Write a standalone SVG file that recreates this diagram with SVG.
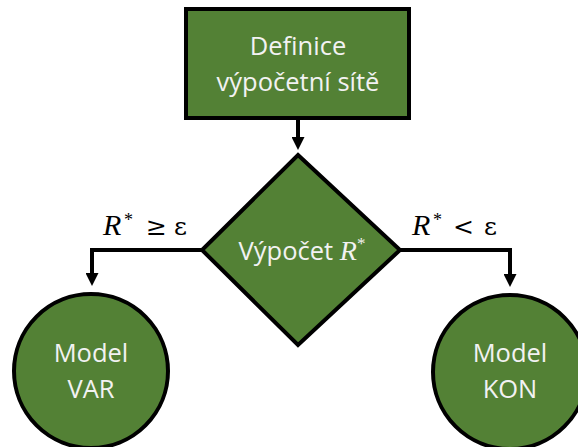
<svg xmlns="http://www.w3.org/2000/svg" width="578" height="447" viewBox="0 0 578 447">
<style>
.node{fill:#538135;stroke:#000;stroke-width:4}
.t{font-family:"Open Sans","Liberation Sans",sans-serif;font-size:25.5px;fill:#f2f2f2;text-anchor:middle}
.m{font-family:"Liberation Serif","DejaVu Serif",serif;font-size:30px;fill:#000}
.o{font-family:"DejaVu Serif",serif;font-size:25px;fill:#000}
.s{font-family:"Liberation Serif","DejaVu Serif",serif;font-size:18px;fill:#000}
.c{fill:none;stroke:#000;stroke-width:4}
</style>
<defs>
<marker id="ah" markerWidth="13" markerHeight="13" refX="9" refY="6.5" orient="auto" markerUnits="userSpaceOnUse" viewBox="0 0 13 13">
<path d="M0,0 L13,6.5 L0,13 z" fill="#000"/>
</marker>
</defs>
<g id="connectors">
<path class="c" d="M298,118 V146" marker-end="url(#ah)"/>
<path class="c" d="M202,250 H92 V282" marker-end="url(#ah)"/>
<path class="c" d="M400,250 H510 V283" marker-end="url(#ah)"/>
</g>
<g id="definice">
<rect class="node" x="186" y="9" width="223" height="109"/>
<text class="t" x="298" y="55">Definice</text>
<text class="t" x="298" y="91">výpočetní sítě</text>
</g>
<g id="vypocet">
<polygon class="node" points="298,155 400,250 298,345 202,250"/>
<text class="t" x="302" y="260">Výpočet <tspan font-family="Liberation Serif,serif" font-style="italic" font-size="28">R</tspan><tspan font-family="Liberation Serif,serif" font-size="17" dy="-11">*</tspan></text>
</g>
<g id="var">
<circle class="node" cx="91" cy="371" r="77"/>
<text class="t" x="91" y="362">Model</text>
<text class="t" x="91" y="398">VAR</text>
</g>
<g id="kon">
<circle class="node" cx="510" cy="372" r="77"/>
<text class="t" x="510" y="362">Model</text>
<text class="t" x="510" y="398">KON</text>
</g>
<g id="labels">
<text class="m" x="103" y="235" font-style="italic">R</text>
<text class="s" x="124" y="226">*</text>
<text class="o" x="146" y="235">≥</text>
<text class="o" x="174" y="235">ε</text>
<text class="m" x="412" y="235" font-style="italic">R</text>
<text class="s" x="433" y="226">*</text>
<text class="o" x="453" y="235">&lt;</text>
<text class="o" x="484" y="235">ε</text>
</g>
</svg>
